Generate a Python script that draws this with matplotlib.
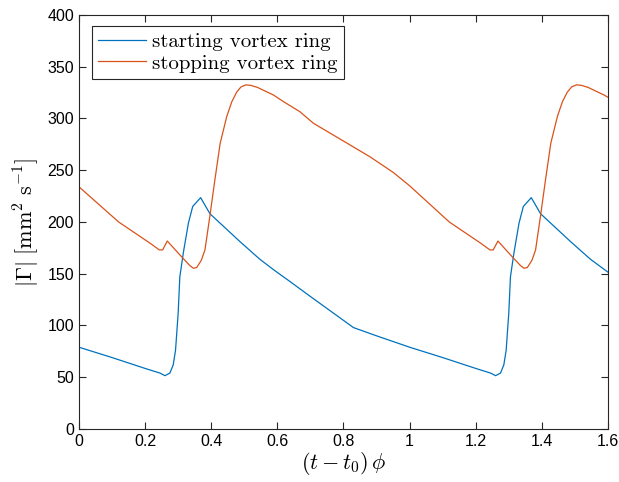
import matplotlib
matplotlib.use("agg")
from matplotlib import pyplot

# starting vortex ring, |Gamma| in mm^2/s against (t - t0) phi
start_x = [0.0, 0.1, 0.2, 0.245, 0.26, 0.275, 0.285, 0.292, 0.30, 0.305,
           0.316, 0.331, 0.344, 0.368, 0.396, 0.487, 0.547, 0.588, 0.638,
           0.70, 0.83, 0.9,
           1.0, 1.1, 1.2, 1.245, 1.26, 1.275, 1.285, 1.292, 1.30, 1.305,
           1.316, 1.331, 1.344, 1.368, 1.396, 1.487, 1.547, 1.6]
start_y = [79, 69, 58.5, 54, 51.5, 54, 62, 76, 112, 147,
           171, 199, 215, 223.5, 208, 181, 164, 154, 142.5,
           128, 98, 90,
           79, 69, 58.5, 54, 51.5, 54, 62, 76, 112, 147,
           171, 199, 215, 223.5, 208, 181, 164, 151.5]

# stopping vortex ring
stop_x = [0.0, 0.12, 0.215, 0.243, 0.253, 0.267, 0.31, 0.335, 0.346, 0.356,
          0.37, 0.381, 0.396, 0.411, 0.427, 0.447, 0.462, 0.477, 0.49, 0.505,
          0.52, 0.54, 0.588, 0.62, 0.668, 0.709, 0.82, 0.88, 0.95,
          1.0, 1.12, 1.215, 1.243, 1.253, 1.267, 1.31, 1.335, 1.346, 1.356,
          1.37, 1.381, 1.396, 1.411, 1.427, 1.447, 1.462, 1.477, 1.49, 1.505,
          1.52, 1.54, 1.588, 1.6]
stop_y = [234, 200, 179.5, 173, 173, 181.6, 166.5, 158, 155.3, 156,
          163, 173, 206, 240.6, 276, 302, 316, 325.5, 330.5, 332.5,
          332, 330, 322.7, 316, 306.6, 295.4, 274.4, 263, 248,
          235, 200, 179.5, 173, 173, 181.6, 166.5, 158, 155.3, 156,
          163, 173, 206, 240.6, 276, 302, 316, 325.5, 330.5, 332.5,
          332, 330, 322.7, 320.5]

labels = ["starting vortex ring", "stopping vortex ring"]

pyplot.rcParams["mathtext.fontset"] = "cm"
pyplot.rcParams["font.family"] = "Liberation Sans"

fig = pyplot.figure(figsize=(6.19, 4.82), dpi=100)
ax = fig.add_axes([0.1276, 0.1100, 0.8546, 0.8589])

ax.plot(start_x, start_y, color="#0072BD", lw=0.9, label=labels[0])
ax.plot(stop_x, stop_y, color="#D95319", lw=0.9, label=labels[1])

ax.set_xlim(0, 1.6)
ax.set_ylim(0, 400)
ax.set_xticks([0, 0.2, 0.4, 0.6, 0.8, 1, 1.2, 1.4, 1.6])
ax.set_xticklabels(["0", "0.2", "0.4", "0.6", "0.8", "1", "1.2", "1.4", "1.6"])
ax.set_yticks(range(0, 401, 50))

for side in ax.spines.values():
    side.set_color("#262626")
    side.set_linewidth(0.8)
ax.tick_params(direction="in", top=True, right=True, length=5, width=0.8,
               colors="#262626", labelsize=11.5, labelcolor="black")

ax.set_xlabel(r"$(t-t_0)\,\phi$", fontsize=16, labelpad=1)
ax.set_ylabel(r"$|\Gamma|\ [\mathrm{mm}^2\ \mathrm{s}^{-1}]$", fontsize=16,
              labelpad=4)

leg = ax.legend(loc="upper left", prop={"family": "cmr10", "size": 15},
                frameon=True, fancybox=False, edgecolor="#262626",
                framealpha=1, handlelength=2.3, handletextpad=0.3,
                borderpad=0.3, labelspacing=0.15, borderaxespad=0,
                bbox_to_anchor=(0.0246, 0.9734))
leg.get_frame().set_linewidth(0.8)

fig.savefig("out.png", dpi=100)
